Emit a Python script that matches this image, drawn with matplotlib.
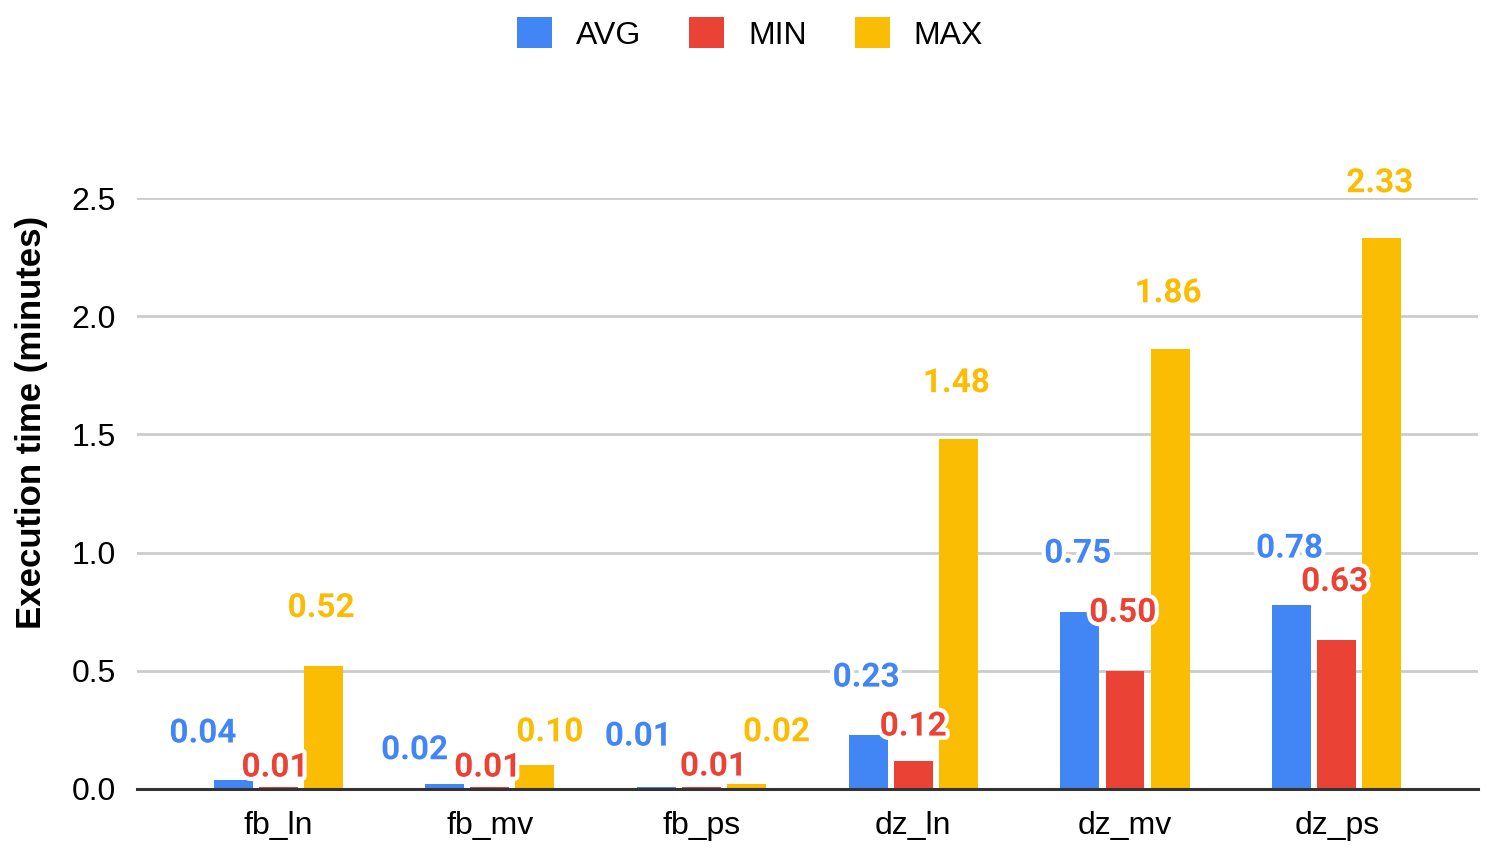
import numpy as np
import matplotlib.pyplot as plt
import matplotlib.patheffects as pe

# --- datos ---
categorias = ['fb_ln', 'fb_mv', 'fb_ps', 'dz_ln', 'dz_mv', 'dz_ps']
avg_vals = [0.04, 0.02, 0.01, 0.23, 0.75, 0.78]
min_vals = [0.01, 0.01, 0.01, 0.12, 0.50, 0.63]
max_vals = [0.52, 0.10, 0.02, 1.48, 1.86, 2.33]
series = ['AVG', 'MIN', 'MAX']
y_ticks = [0.0, 0.5, 1.0, 1.5, 2.0, 2.5]

colores = ['#4285F4', '#EA4335', '#FBBC04']

# desplazamiento de etiquetas (pixeles) respecto al tope de cada barra
lbl_dx = [[-30, -30, -18, -2, -2, -2],
          [-3, -2, 12, 0, -2, -2],
          [-2, 15, 30, -2, -2, -2]]
lbl_dy = [[46, 34, 50, 57, 58, 56],
          [19, 19, 20, 34, 58, 58],
          [58, 33, 52, 56, 56, 55]]

fig = plt.figure(figsize=(15, 8.51), dpi=100)
ax = fig.add_axes([0.0913, 0.0729, 0.894, 0.6944])

x = np.arange(len(categorias))
ancho = 0.184
paso = 0.213
datos = [avg_vals, min_vals, max_vals]

for i, (nombre, vals) in enumerate(zip(series, datos)):
    pos = x + (i - 1) * paso
    ax.bar(pos, vals, width=ancho, color=colores[i], label=nombre, zorder=3)
    for j, v in enumerate(vals):
        ax.annotate(f'{v:.2f}', xy=(pos[j], v),
                    xytext=(lbl_dx[i][j], lbl_dy[i][j]), textcoords='offset pixels',
                    ha='center', va='center', fontsize=24, fontweight='bold',
                    family='Roboto', color=colores[i], zorder=5, annotation_clip=False,
                    path_effects=[pe.withStroke(linewidth=6, foreground='white')])

ax.set_xlim(-0.667, 5.667)
ax.set_ylim(0, 2.5)
ax.set_yticks(y_ticks)
ax.set_yticklabels([f'{t:.1f}' for t in y_ticks], family='Liberation Sans', fontsize=23)
ax.set_xticks(x)
ax.set_xticklabels(categorias, family='Liberation Sans', fontsize=23)
ax.tick_params(axis='x', length=0, pad=16)
ax.tick_params(axis='y', length=0, pad=15)

ax.grid(axis='y', color='#cccccc', lw=2, zorder=0)
ax.set_axisbelow(True)
for s in ['top', 'right', 'left']:
    ax.spines[s].set_visible(False)
ax.spines['bottom'].set_color('#333333')
ax.spines['bottom'].set_linewidth(2.2)
ax.spines['bottom'].set_zorder(4)

# el titulo del eje va centrado en el area del grafico, no del eje
ax.set_ylabel('Execution time (minutes)', family='Liberation Sans', fontweight='bold',
              fontsize=25)
ax.yaxis.set_label_coords(-0.066, 0.621)

leg = fig.legend(loc='center', bbox_to_anchor=(0.5, 0.96), ncol=3, frameon=False,
                 prop={'family': 'Liberation Sans', 'size': 23},
                 handlelength=1.1, handleheight=1.1, handletextpad=0.75,
                 columnspacing=1.5)

fig.savefig('out.png', dpi=100)
